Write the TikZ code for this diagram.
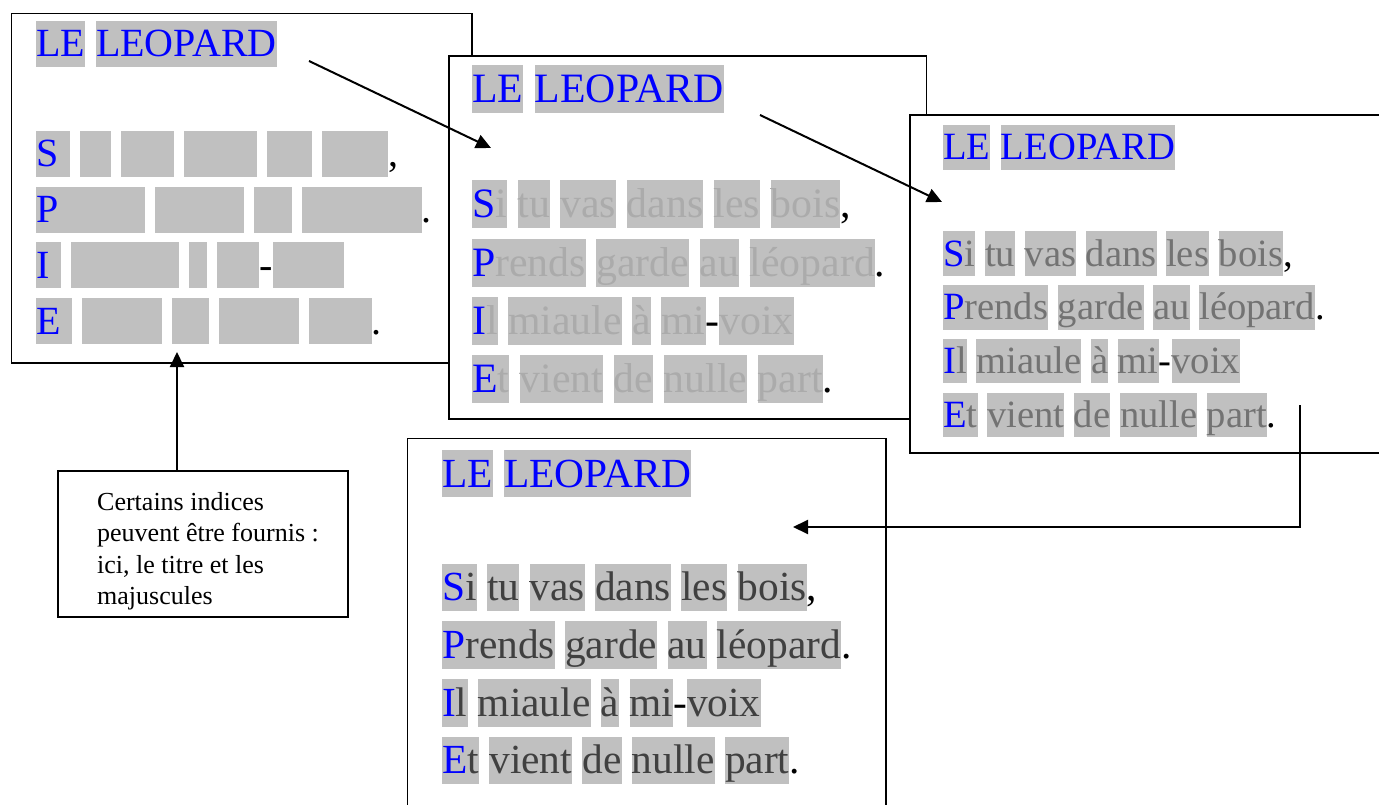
\documentclass[tikz,border=0pt]{standalone}
\usepackage{fontspec}
\setmainfont{Liberation Serif}
\usetikzlibrary{arrows.meta}

\definecolor{boxgray}{HTML}{C0C0C0}
\definecolor{leoblue}{HTML}{0000FF}
\colorlet{fadetext}{black!40}

% one grey word box of fixed height
\newcommand\wb[1]{{\setlength\fboxsep{0pt}\colorbox{boxgray}{\rule[-10pt]{0pt}{46pt}#1}}}
% initial capital of a line
\newcommand\poemcap[1]{\textcolor{leoblue}{#1}}
% hidden or faded letters
\newcommand\showfaded[1]{{\color{fadetext}#1}}
\let\hid\phantom
\newcommand\ws{\hspace{10pt}}

% the poem: title and four lines
\newcommand\poem[1]{%
  \node[poemline] (#1title) at (0,0) {\wb{\poemcap{LE}}\hspace{11pt}\wb{\poemcap{LEOPARD}}};
  \node[poemline] (#1one) at (0,110) {\wb{\poemcap{S}\hid{i}}\ws\wb{\hid{tu}}\ws\wb{\hid{vas}}\ws\wb{\hid{dans}}\ws\wb{\hid{les}}\ws\wb{\hid{bois}},};
  \node[poemline] (#1two) at (0,165.7) {\wb{\poemcap{P}\hid{rends}}\ws\wb{\hid{garde}}\ws\wb{\hid{au}}\ws\wb{\hid{léopard}}.};
  \node[poemline] (#1three) at (0,221.4) {\wb{\poemcap{I}\hid{l}}\ws\wb{\hid{miaule}}\ws\wb{\hid{à}}\ws\wb{\hid{mi}}-\wb{\hid{voix}}};
  \node[poemline] (#1four) at (0,277.1) {\wb{\poemcap{E}\hid{t}}\ws\wb{\hid{vient}}\ws\wb{\hid{de}}\ws\wb{\hid{nulle}}\ws\wb{\hid{part}}.};
}

\tikzset{
  poemline/.style={anchor=base west, inner sep=0pt, font=\fontsize{40}{48}\selectfont},
  panel/.style={draw=black, line width=1.6pt, fill=white, anchor=north west, inner sep=0pt},
  notebox/.style={draw=black, line width=1.6pt, fill=white, anchor=north west, inner sep=0pt},
  link/.style={draw=black, line width=2pt, -{Triangle[length=15pt,width=14pt]}},
}

\begin{document}
\begin{tikzpicture}[x=1pt,y=-1pt]
\useasboundingbox (0,0) rectangle (1379,805);
\clip (0,0) rectangle (1379,805);

% first sheet: only title and capitals
\node[panel, minimum width=460.3pt, minimum height=349.6pt] (sheetA) at (10.7,12.7) {};
\begin{scope}[shift={(36,57)}]
  \poem{pa}
\end{scope}

% second sheet: text barely showing
\node[panel, minimum width=477.4pt, minimum height=363.3pt] (sheetB) at (448.3,55) {};
\begin{scope}[shift={(472,103)}, scale=1.045, transform shape]
  \colorlet{fadetext}{black!33}\let\hid\showfaded
  \poem{pb}
\end{scope}

% third sheet: text half showing
\node[panel, minimum width=490pt, minimum height=338pt] (sheetC) at (909,114.3) {};
\begin{scope}[shift={(943,160)}, scale=0.965, transform shape]
  \colorlet{fadetext}{black!55}\let\hid\showfaded
  \poem{pc}
\end{scope}

% fourth sheet: text mostly showing
\node[panel, minimum width=478.3pt, minimum height=390pt] (sheetD) at (406.7,437.7) {};
\begin{scope}[shift={(442,487)}, scale=1.035, transform shape]
  \colorlet{fadetext}{black!75}\let\hid\showfaded
  \poem{pd}
\end{scope}

% hint box
\node[notebox, minimum width=290pt, minimum height=146pt] (note) at (57,470) {};
\node[anchor=north west, inner sep=0pt, align=left, font=\fontsize{26}{31.5}\selectfont] (notetext) at (97,492)
  {Certains indices\\peuvent être fournis :\\ici, le titre et les\\majuscules};

% connectors
\coordinate (aFrom) at (309,61);
\coordinate (aTo) at (491,148);
\coordinate (bFrom) at (760,115);
\coordinate (bTo) at (942,202);
\coordinate (cFrom) at (1300,405);
\coordinate (cTo) at (793,527);
\coordinate (dTo) at (177,352);

\draw[link] (aFrom) -- (aTo);
\draw[link] (bFrom) -- (bTo);
\draw[link] (cFrom) |- (cTo);
\draw[link] (note.north -| dTo) -- (dTo);
\end{tikzpicture}
\end{document}
